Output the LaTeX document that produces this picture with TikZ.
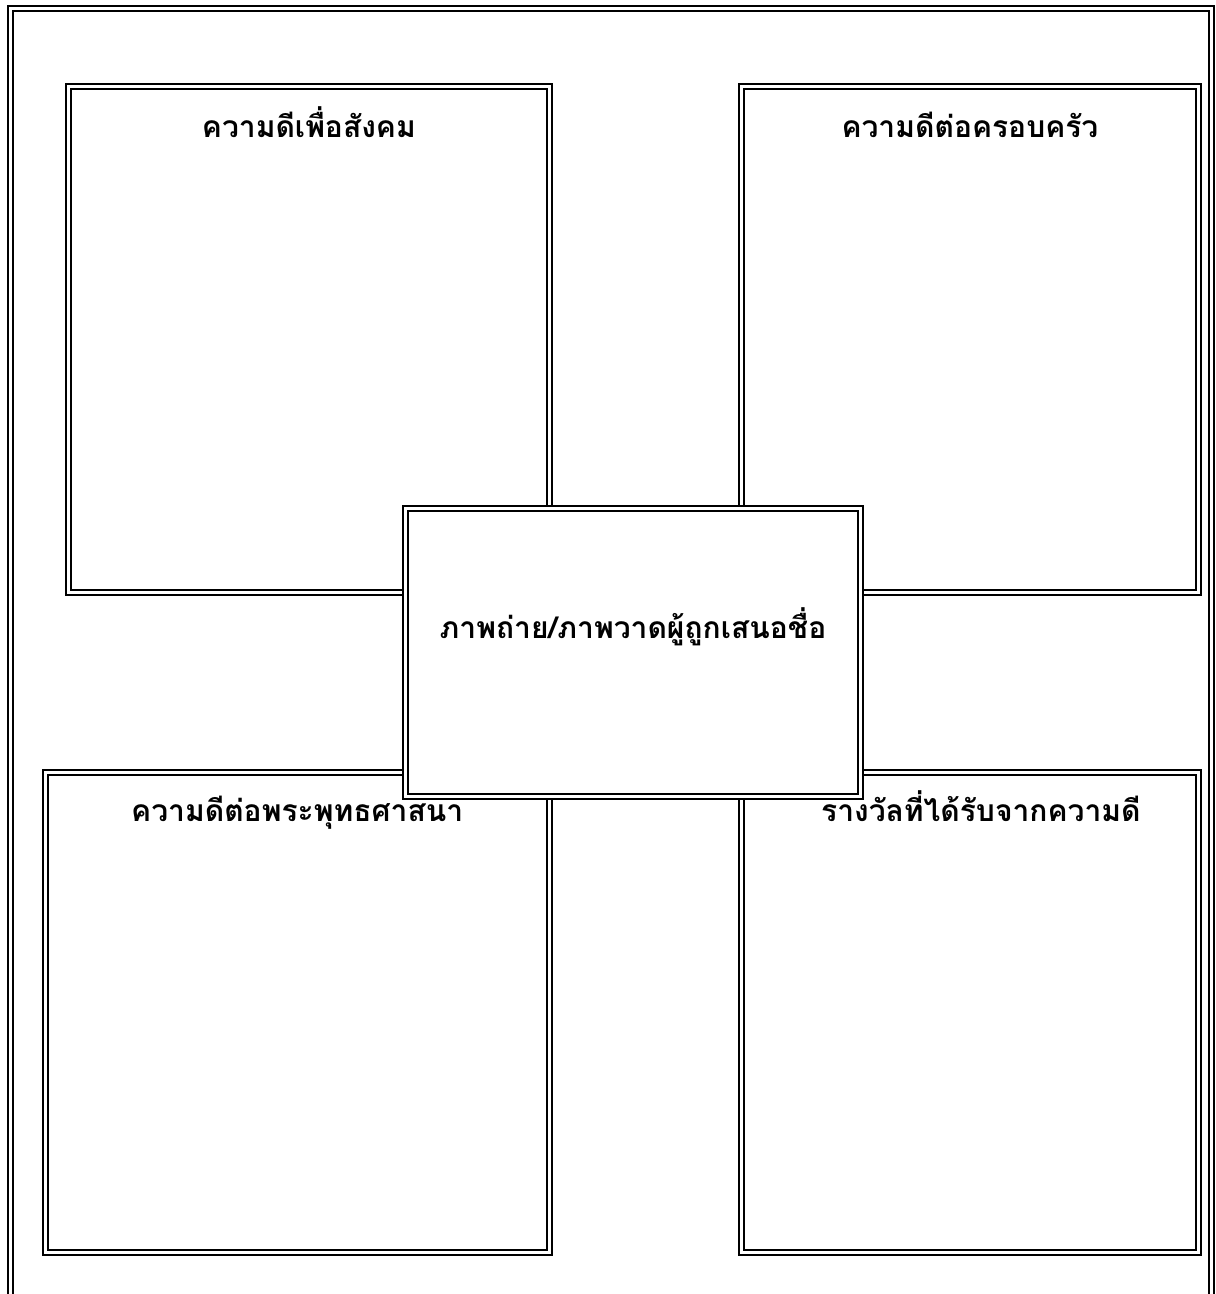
\documentclass[tikz,border=0pt]{standalone}
\usepackage{fontspec}
\newfontfamily\thaifont[Script=Thai]{Loma}
\usetikzlibrary{calc}
\tikzset{panel/.style={draw,double,line width=2pt,double distance=3pt,inner sep=0pt,fill=white},
heading/.style={font=\thaifont\bfseries\fontsize{30}{36}\selectfont,anchor=base,inner sep=0pt}}
\begin{document}
\begin{tikzpicture}[x=1pt,y=-1pt]
\useasboundingbox (0,0) rectangle (1216,1294);
\draw[double,line width=2pt,double distance=3pt] (10.5,1320)--(10.5,8.7)--(1211.3,8.7)--(1211.3,1320);
\node[panel,minimum width=480.8pt,minimum height=505.3pt] (society) at (308.9,339.4){};
\node[panel,minimum width=457.7pt,minimum height=505.3pt] (family) at (969.9,339.4){};
\node[panel,minimum width=504.3pt,minimum height=480.7pt] (religion) at (297.2,1012.4){};
\node[panel,minimum width=457.7pt,minimum height=480.7pt] (reward) at (969.9,1012.4){};
\node[panel,minimum width=454.6pt,minimum height=287.7pt] (photo) at (633,652.2){};
\node[heading] (societytext) at ($(society.north)+(0,52)$){ความดีเพื่อสังคม};
\node[heading] (familytext) at ($(family.north)+(0,52)$){ความดีต่อครอบครัว};
\node[heading] (religiontext) at ($(religion.north)+(0,50)$){ความดีต่อพระพุทธศาสนา};
\node[heading] (rewardtext) at ($(reward.north)+(11,50)$){รางวัลที่ได้รับจากความดี};
\node[heading] (phototext) at ($(photo.center)+(0,-14)$){ภาพถ่าย/ภาพวาดผู้ถูกเสนอชื่อ};
\end{tikzpicture}
\end{document}
